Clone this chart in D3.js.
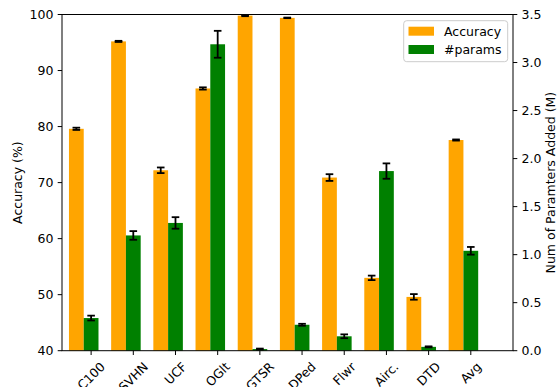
<!DOCTYPE html>
<html><head><meta charset="utf-8">
<script src="https://cdn.jsdelivr.net/npm/d3@7"></script>
<style>body{margin:0;background:#fff}svg{display:block}text{font-family:"DejaVu Sans",sans-serif}</style>
</head><body><svg id="c" width="558" height="387"></svg>
<script>
const categories = ["C100","SVHN","UCF","OGlt","GTSR","DPed","Flwr","Airc.","DTD","Avg"];
const accuracy =    [79.6, 95.2, 72.2, 86.8, 99.8, 99.4, 70.9, 53.0, 49.6, 77.6];
const accuracyErr = [0.2,  0.1,  0.5,  0.2,  0.1,  0.05, 0.6,  0.4,  0.5,  0.1];
const params =      [0.34, 1.20, 1.33, 3.19, 0.017,0.27, 0.15, 1.87, 0.04, 1.04];
const paramsErr =   [0.025,0.045,0.06, 0.14, 0.005,0.01, 0.02, 0.08, 0.005,0.04];
const accTicks = [40,50,60,70,80,90,100];
const parTicks = [0,0.5,1,1.5,2,2.5,3,3.5];

const fs = 12.5, tl = 4.3, pad = 4.3;
const L = 62, R = 513, T = 14.5, B = 350.7;
const svg = d3.select("#c");
const x = d3.scaleLinear().domain([-0.69, 10.0]).range([L, R]);
const yA = d3.scaleLinear().domain([40, 100]).range([B, T]);
const yP = d3.scaleLinear().domain([0, 3.5]).range([B, T]);
const w = 0.35;
const idx = d3.range(categories.length);

// bars
svg.append("g").selectAll("rect").data(idx).join("rect")
  .attr("x", i => x(i - 1.5*w)).attr("width", x(w) - x(0))
  .attr("y", i => yA(accuracy[i])).attr("height", i => B - yA(accuracy[i]))
  .attr("fill", "#FFA500");
svg.append("g").selectAll("rect").data(idx).join("rect")
  .attr("x", i => x(i - 0.5*w)).attr("width", x(w) - x(0))
  .attr("y", i => yP(params[i])).attr("height", i => B - yP(params[i]))
  .attr("fill", "#008000");

// error bars
function errBars(cx, vals, errs, ys) {
  const g = svg.append("g").attr("stroke", "#000").attr("stroke-width", 1.8);
  idx.forEach(i => {
    const xc = x(cx(i)), y1 = ys(vals[i] - errs[i]), y2 = ys(vals[i] + errs[i]);
    g.append("line").attr("x1", xc).attr("x2", xc).attr("y1", y1).attr("y2", y2);
    g.append("line").attr("x1", xc-3.8).attr("x2", xc+3.8).attr("y1", y1).attr("y2", y1);
    g.append("line").attr("x1", xc-3.8).attr("x2", xc+3.8).attr("y1", y2).attr("y2", y2);
  });
}
errBars(i => i - w, accuracy, accuracyErr, yA);
errBars(i => i, params, paramsErr, yP);

// frame
svg.append("rect").attr("x", L).attr("y", T).attr("width", R-L).attr("height", B-T)
  .attr("fill", "none").attr("stroke", "#000").attr("stroke-width", 1);

// left axis
const gl = svg.append("g");
accTicks.forEach(t => {
  gl.append("line").attr("x1", L-tl).attr("x2", L).attr("y1", yA(t)).attr("y2", yA(t)).attr("stroke","#000");
  gl.append("text").attr("x", L-tl-pad).attr("y", yA(t)).attr("text-anchor","end")
    .attr("dominant-baseline","central").attr("font-size", fs).attr("fill","#000").text(t);
});
// right axis
const gr = svg.append("g");
parTicks.forEach(t => {
  gr.append("line").attr("x1", R).attr("x2", R+tl).attr("y1", yP(t)).attr("y2", yP(t)).attr("stroke","#000");
  gr.append("text").attr("x", R+tl+pad).attr("y", yP(t)).attr("text-anchor","start")
    .attr("dominant-baseline","central").attr("font-size", fs).attr("fill","#000").text(d3.format(".1f")(t));
});
// x axis
const gx = svg.append("g");
idx.forEach(i => {
  const xc = x(i);
  gx.append("line").attr("x1", xc).attr("x2", xc).attr("y1", B).attr("y2", B+tl).attr("stroke","#000");
  const t = gx.append("text").attr("font-size", fs).attr("text-anchor","middle")
    .attr("dominant-baseline","central").attr("fill","#000").text(categories[i]);
  const tw = t.node().getComputedTextLength();
  const side = (tw + fs*1.15) / Math.SQRT2;
  const cy = B + tl + pad + side/2;
  t.attr("x", xc).attr("y", cy).attr("transform", `rotate(-45,${xc},${cy})`);
});

// axis labels
svg.append("text").attr("transform", `translate(17,${(T+B)/2}) rotate(-90)`)
  .attr("text-anchor","middle").attr("dominant-baseline","central").attr("font-size", fs).text("Accuracy (%)");
svg.append("text").attr("transform", `translate(550.5,${(T+B)/2}) rotate(-90)`)
  .attr("text-anchor","middle").attr("dominant-baseline","central").attr("font-size", fs).text("Num of Paramters Added (M)");

// legend
const lg = svg.append("g");
lg.append("rect").attr("x", 403.7).attr("y", 20.7).attr("width", 104).attr("height", 41)
  .attr("rx", 3).attr("fill", "#fff").attr("fill-opacity", 0.8).attr("stroke", "#cccccc");
const legendItems = [["Accuracy","#FFA500"],["#params","#008000"]];
legendItems.forEach(([name, col], k) => {
  const cy = 31.2 + k*18.3;
  lg.append("rect").attr("x", 408.5).attr("y", cy-4.5).attr("width", 25.5).attr("height", 9).attr("fill", col);
  lg.append("text").attr("x", 444).attr("y", cy).attr("dominant-baseline","central")
    .attr("font-size", fs).text(name);
});
</script></body></html>
